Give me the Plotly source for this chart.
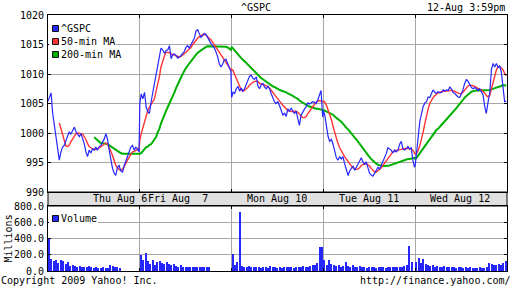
import plotly.graph_objects as go

# ---------------- data ----------------
DAY_LABELS = ["Thu Aug 6", "Fri Aug  7", "Mon Aug 10", "Tue Aug 11", "Wed Aug 12"]
MIN_PER_DAY = 390

# minutes after the open at which the intraday values below were read
SAMPLE_MIN = [0, 6, 13, 20, 27, 34, 41, 48,
              55, 62, 69, 76, 83, 90, 97, 105,
              112, 119, 126, 133, 140, 147, 154, 161,
              168, 175, 182, 189, 196, 203, 210, 218,
              225, 232, 239, 246, 253, 260, 267, 274,
              281, 288, 295, 302, 309, 317, 324, 331,
              338, 345, 352, 359, 366, 373, 380, 387]

N = None

GSPC_THU = [1005.4, 1006.1, 1006.8, 1003.3, 1001.3, 999.0, 997.6, 995.4,
            996.8, 997.6, 997.9, 998.8, 999.3, 1000.2, 999.8, 1000.5,
            1001.0, 1000.2, 999.8, 999.4, 999.9, 999.2, 998.2, 996.8,
            996.0, 997.1, 996.6, 997.3, 997.1, 997.6, 997.1, 997.7,
            997.9, 998.5, 999.0, 999.9, 998.9, 997.1, 995.4, 994.0,
            993.2, 992.8, 994.2, 994.5, 993.6, 993.4, 994.5, 995.3,
            995.9, 996.6, 997.6, 997.9, 997.1, 997.6, 997.3, 996.8]
GSPC_FRI = [1005.0, 1006.6, 1005.8, 1006.9, 1004.4, 1003.6, 1003.3, 1005.3,
            1006.9, 1008.6, 1009.8, 1011.2, 1013.4, 1014.4, 1014.1, 1013.5,
            1014.0, 1014.1, 1014.8, 1012.6, 1013.3, 1013.4, 1013.1, 1012.7,
            1012.9, 1013.1, 1013.5, 1013.8, 1014.5, 1014.8, 1014.4, 1015.1,
            1015.6, 1016.1, 1017.3, 1017.5, 1016.8, 1016.2, 1016.5, 1016.9,
            1016.7, 1016.1, 1015.6, 1015.2, 1014.8, 1014.4, 1013.7, 1012.9,
            1011.7, 1011.2, 1011.7, 1012.4, 1012.5, 1011.7, 1011.1, 1010.5]
GSPC_MON = [1006.0, 1006.9, 1006.7, 1007.5, 1007.9, 1007.1, 1007.6, 1007.1,
            1007.5, 1008.2, 1008.9, 1009.6, 1009.8, 1009.3, 1009.1, 1009.5,
            1007.9, 1007.5, 1008.2, 1008.4, 1007.8, 1007.5, 1007.9, 1007.5,
            1006.7, 1005.8, 1005.3, 1005.0, 1005.3, 1004.7, 1003.7, 1003.0,
            1003.4, 1002.8, 1004.1, 1003.7, 1004.2, 1003.6, 1003.3, 1003.7,
            1002.4, 1001.3, 1003.0, 1003.6, 1004.0, 1004.5, 1005.1, 1004.9,
            1005.1, 1005.3, 1005.2, 1005.0, 1005.6, 1006.4, 1007.2, 1002.7]
GSPC_TUE = [1003.8, 1003.0, 1001.0, 999.4, 998.6, 998.9, 998.1, 996.9,
            995.8, 995.4, 996.0, 995.6, 996.0, 994.8, 994.0, 992.8,
            993.6, 994.1, 994.4, 993.7, 994.2, 994.8, 995.4, 995.8,
            995.1, 994.7, 995.1, 994.1, 993.2, 992.9, 992.7, 993.2,
            993.8, 994.2, 993.9, 994.5, 995.1, 995.6, 996.5, 997.5,
            997.3, 997.1, 996.6, 997.1, 996.8, 997.1, 998.1, 998.6,
            997.3, 997.1, 997.3, 997.7, 997.3, 997.5, 995.4, 994.2]
GSPC_WED = [994.5, 996.5, 999.3, 1002.1, 1003.3, 1004.5, 1005.1, 1005.3,
            1006.1, 1006.0, 1006.7, 1007.3, 1006.9, 1006.7, 1007.0, 1006.8,
            1006.9, 1007.3, 1007.1, 1007.3, 1007.2, 1007.8, 1007.5, 1006.9,
            1006.7, 1006.4, 1006.1, 1006.0, 1006.7, 1007.3, 1008.4, 1009.1,
            1008.7, 1008.1, 1007.7, 1007.5, 1007.7, 1007.5, 1007.2, 1007.5,
            1007.1, 1006.5, 1004.6, 1003.3, 1005.1, 1006.9, 1010.8, 1011.8,
            1011.2, 1011.8, 1011.1, 1011.4, 1010.3, 1008.1, 1005.3, 1005.4]

MA50_THU = [N, N, N, N, N, N, N, 1001.7,
            1000.7, 999.6, 998.5, 997.8, 997.7, 997.9, 998.5, 999.0,
            999.6, 999.9, 1000.0, 1000.0, 999.9, 999.8, 999.4, 998.9,
            998.2, 997.7, 997.5, 997.3, 997.2, 997.2, 997.3, 997.5,
            997.7, 997.9, 998.2, 998.3, 998.1, 997.6, 996.9, 996.2,
            995.4, 994.5, 994.1, 993.8, 993.7, 993.9, 994.4, 994.8,
            995.4, 995.9, 996.5, 996.8, 996.9, 997.1, 997.2, 997.2]
MA50_FRI = [998.8, 999.9, 1001.0, 1002.1, 1002.9, 1003.8, 1004.4, 1005.0,
            1005.3, 1005.8, 1006.9, 1008.0, 1009.5, 1011.2, 1012.3, 1013.1,
            1013.7, 1013.7, 1013.6, 1013.4, 1013.3, 1013.2, 1013.0, 1012.9,
            1012.9, 1013.0, 1013.2, 1013.4, 1013.7, 1014.0, 1014.2, 1014.5,
            1015.0, 1015.4, 1015.8, 1016.1, 1016.3, 1016.5, 1016.7, 1016.7,
            1016.6, 1016.3, 1016.1, 1015.8, 1015.4, 1015.0, 1014.5, 1014.1,
            1013.7, 1013.3, 1012.9, 1012.4, 1012.0, 1011.7, 1011.1, 1010.7]
MA50_MON = [1010.8, 1010.6, 1009.9, 1009.2, 1008.4, 1007.7, 1007.3, 1007.1,
            1007.2, 1007.5, 1007.7, 1008.1, 1008.4, 1008.6, 1008.7, 1008.8,
            1008.7, 1008.4, 1008.3, 1008.2, 1008.1, 1008.0, 1007.9, 1007.6,
            1007.3, 1006.9, 1006.5, 1006.1, 1005.8, 1005.4, 1005.1, 1004.7,
            1004.4, 1004.1, 1003.8, 1003.7, 1003.6, 1003.6, 1003.7, 1003.7,
            1003.5, 1003.2, 1002.8, 1002.6, 1002.6, 1002.8, 1003.3, 1003.7,
            1004.1, 1004.5, 1004.9, 1005.2, 1005.4, 1005.5, 1005.4, 1005.3]
MA50_TUE = [1005.4, 1005.2, 1004.7, 1003.9, 1003.3, 1002.3, 1001.1, 1000.0,
            999.0, 998.2, 997.5, 996.9, 996.5, 996.0, 995.6, 995.1,
            994.7, 994.4, 994.1, 993.9, 993.8, 993.9, 994.1, 994.5,
            994.7, 994.8, 994.8, 994.6, 994.4, 994.0, 993.7, 993.4,
            993.4, 993.6, 993.8, 994.1, 994.5, 994.9, 995.4, 995.8,
            996.2, 996.6, 996.8, 996.9, 997.1, 997.1, 997.2, 997.3,
            997.4, 997.4, 997.4, 997.4, 997.4, 997.3, 997.1, 996.6]
MA50_WED = [996.4, 996.6, 997.1, 997.9, 998.9, 1000.2, 1001.6, 1003.0,
            1004.1, 1005.0, 1005.6, 1006.0, 1006.3, 1006.6, 1006.8, 1006.9,
            1007.0, 1007.1, 1007.1, 1007.1, 1007.2, 1007.2, 1007.2, 1007.2,
            1007.1, 1006.9, 1006.8, 1006.6, 1006.6, 1006.9, 1007.2, 1007.6,
            1008.0, 1008.1, 1008.1, 1008.0, 1007.9, 1007.7, 1007.6, 1007.4,
            1007.3, 1007.1, 1006.8, 1006.4, 1006.1, 1006.4, 1007.5, 1008.6,
            1009.7, 1010.7, 1011.2, 1011.2, 1011.0, 1010.7, 1010.1, 1009.7]

MA200_THU = [N, N, N, N, N, N, N, N,
             N, N, N, N, N, N, N, N,
             N, N, N, N, N, N, N, N,
             N, N, N, N, 999.3, 999.0, 998.8, 998.5,
             998.3, 998.3, 998.2, 998.2, 998.1, 997.9, 997.7, 997.5,
             997.3, 997.1, 996.9, 996.7, 996.6, 996.5, 996.5, 996.5,
             996.4, 996.4, 996.4, 996.4, 996.4, 996.4, 996.4, 996.5]
MA200_FRI = [996.5, 996.6, 996.9, 997.3, 997.6, 997.7, 998.0, 998.1,
             998.5, 998.9, 999.3, 1000.1, 1000.7, 1001.6, 1002.4, 1003.2,
             1003.8, 1004.4, 1005.0, 1005.5, 1006.2, 1006.9, 1007.6, 1008.3,
             1009.0, 1009.4, 1010.0, 1010.6, 1011.0, 1011.4, 1011.8, 1012.3,
             1012.6, 1012.9, 1013.3, 1013.6, 1013.8, 1014.1, 1014.3, 1014.5,
             1014.6, 1014.7, 1014.7, 1014.7, 1014.7, 1014.7, 1014.7, 1014.7,
             1014.7, 1014.7, 1014.6, 1014.6, 1014.6, 1014.5, 1014.3, 1014.1]
MA200_MON = [1014.6, 1014.3, 1014.1, 1013.7, 1013.4, 1013.1, 1012.7, 1012.4,
             1012.2, 1011.9, 1011.6, 1011.3, 1011.0, 1010.8, 1010.5, 1010.2,
             1009.9, 1009.6, 1009.3, 1009.1, 1008.9, 1008.6, 1008.4, 1008.2,
             1008.0, 1007.9, 1007.8, 1007.6, 1007.5, 1007.3, 1007.2, 1007.1,
             1007.0, 1006.9, 1006.7, 1006.6, 1006.4, 1006.3, 1006.1, 1006.0,
             1005.8, 1005.5, 1005.3, 1005.1, 1004.9, 1004.7, 1004.6, 1004.5,
             1004.4, 1004.2, 1004.2, 1004.1, 1004.1, 1004.0, 1004.0, 1003.9]
MA200_TUE = [1003.9, 1003.8, 1003.6, 1003.5, 1003.4, 1003.2, 1003.1, 1002.8,
             1002.6, 1002.4, 1002.1, 1001.9, 1001.6, 1001.2, 1000.9, 1000.6,
             1000.2, 999.9, 999.5, 999.2, 998.9, 998.5, 998.2, 997.9,
             997.5, 997.1, 996.7, 996.3, 995.9, 995.6, 995.3, 995.0,
             994.8, 994.6, 994.5, 994.4, 994.4, 994.4, 994.4, 994.5,
             994.5, 994.6, 994.7, 994.8, 994.9, 995.0, 995.1, 995.3,
             995.4, 995.5, 995.5, 995.6, 995.6, 995.7, 995.8, 995.8]
MA200_WED = [995.6, 995.8, 996.2, 996.6, 997.1, 997.5, 997.9, 998.2,
             998.6, 999.0, 999.4, 999.8, 1000.1, 1000.5, 1000.7, 1001.0,
             1001.4, 1001.7, 1002.0, 1002.4, 1002.7, 1003.0, 1003.3, 1003.6,
             1003.8, 1004.2, 1004.6, 1004.9, 1005.3, 1005.6, 1006.0, 1006.3,
             1006.6, 1006.9, 1007.0, 1007.1, 1007.2, 1007.2, 1007.2, 1007.2,
             1007.2, 1007.2, 1007.2, 1007.2, 1007.2, 1007.3, 1007.4, 1007.5,
             1007.6, 1007.7, 1007.9, 1008.0, 1008.0, 1008.1, 1008.1, 1008.0]

GSPC_DAYS = [GSPC_THU, GSPC_FRI, GSPC_MON, GSPC_TUE, GSPC_WED]
MA50_DAYS = [MA50_THU, MA50_FRI, MA50_MON, MA50_TUE, MA50_WED]
MA200_DAYS = [MA200_THU, MA200_FRI, MA200_MON, MA200_TUE, MA200_WED]

# volume, millions, 10-minute bars
VOL_BAR_MIN = 10
VOL_THU = [390, 150, 120, 140, 100, 135, 120, 90, 110, 60, 70, 60, 55, 60, 50, 55,
           50, 58, 45, 40, 45, 40, 38, 45, 40, 42, 80, 65, 50, 45, 40]
VOL_FRI = [200, 130, 225, 120, 90, 130, 80, 110, 120, 100, 90, 110, 85, 70, 90, 60,
           55, 70, 50, 45, 55, 50, 45, 50, 45, 55, 50, 45, 55, 45]
VOL_MON = [210, 70, 110, 725, 60, 55, 50, 60, 45, 55, 50, 45, 40, 50, 45, 40,
           60, 45, 50, 40, 45, 40, 50, 45, 55, 50, 40, 45, 55, 50, 60, 50,
           55, 60, 70, 75, 95, 290, 290]
VOL_TUE = [135, 70, 135, 90, 80, 60, 70, 55, 60, 115, 60, 50, 70, 55, 45, 60,
           50, 45, 40, 45, 50, 45, 40, 45, 50, 45, 40, 50, 45, 55, 50, 45,
           50, 55, 60, 75, 310, 110]
VOL_WED = [115, 155, 95, 145, 90, 70, 60, 75, 55, 60, 50, 55, 60, 50, 45, 50,
           45, 40, 50, 45, 40, 45, 40, 45, 40, 35, 40, 45, 40, 35, 45, 100,
           90, 80, 70, 85, 75, 100, 125]
VOL_DAYS = [VOL_THU, VOL_FRI, VOL_MON, VOL_TUE, VOL_WED]

PRICE_TICKS = [990, 995, 1000, 1005, 1010, 1015, 1020]
VOL_TICKS = [0, 200, 400, 600, 800]

# ---------------- layout helpers ----------------
W, H = 512, 288
ML, MR, MT, MB = 48, 5, 15, 17
PW, PH = W - ML - MR, H - MT - MB


def px(x):
    return (x - ML) / PW


def py(y):
    return (H - MB - y) / PH


BLUE, RED, GREEN = "#2626ff", "#ff3333", "#00b000"
GRID = "#a6a6a6"
FONT = "DejaVu Sans Mono"

# ---------------- assemble series ----------------
xs, g, r50, r200 = [], [], [], []
for d in range(5):
    for i, m in enumerate(SAMPLE_MIN):
        xs.append(d * MIN_PER_DAY + m)
        g.append(GSPC_DAYS[d][i])
        r50.append(MA50_DAYS[d][i])
        r200.append(MA200_DAYS[d][i])

vx, vy = [], []
for d in range(5):
    for i, v in enumerate(VOL_DAYS[d]):
        vx.append(d * MIN_PER_DAY + i * VOL_BAR_MIN + VOL_BAR_MIN / 2)
        vy.append(v)

fig = go.Figure()
fig.add_trace(go.Scatter(x=xs, y=r200, mode="lines", line=dict(color=GREEN, width=2),
                         connectgaps=False, xaxis="x", yaxis="y", name="200-min MA"))
fig.add_trace(go.Scatter(x=xs, y=r50, mode="lines", line=dict(color=RED, width=1.4),
                         connectgaps=False, xaxis="x", yaxis="y", name="50-min MA"))
fig.add_trace(go.Scatter(x=xs, y=g, mode="lines", line=dict(color=BLUE, width=1.2),
                         xaxis="x", yaxis="y", name="^GSPC"))
fig.add_trace(go.Bar(x=vx, y=vy, width=VOL_BAR_MIN * 0.55, marker=dict(color=BLUE, line=dict(width=0)),
                     xaxis="x2", yaxis="y2", name="Volume"))

axis_common = dict(showgrid=True, gridcolor=GRID, gridwidth=1, zeroline=False,
                   showline=True, linecolor="black", linewidth=1, mirror="ticks",
                   ticks="inside", ticklen=3, tickcolor="black",
                   tickfont=dict(family=FONT, size=10, color="black"))
day_bounds = [MIN_PER_DAY * k for k in range(1, 5)]

fig.update_layout(
    width=W, height=H, margin=dict(l=ML, r=MR, t=MT, b=MB),
    paper_bgcolor="white", plot_bgcolor="white", showlegend=False,
    font=dict(family=FONT, size=10, color="black"),
    bargap=0,
    xaxis=dict(domain=[0, 1], range=[0, 5 * MIN_PER_DAY], tickvals=day_bounds,
               showticklabels=False, anchor="y", **axis_common),
    yaxis=dict(domain=[py(192), 1], range=[PRICE_TICKS[0], PRICE_TICKS[-1]], tickvals=PRICE_TICKS,
               anchor="x", ticklabelstandoff=1, **axis_common),
    xaxis2=dict(domain=[0, 1], range=[0, 5 * MIN_PER_DAY], tickvals=day_bounds,
                showticklabels=False, anchor="y2", matches="x", **axis_common),
    yaxis2=dict(domain=[0, py(206)], range=[VOL_TICKS[0], VOL_TICKS[-1]], tickvals=VOL_TICKS,
                ticktext=[f"{v:.1f}" for v in VOL_TICKS], anchor="x2", ticklabelstandoff=1,
                **axis_common),
)

shapes = []
annotations = []

# date band between the panels
shapes.append(dict(type="rect", xref="paper", yref="paper", x0=0, x1=1, y0=py(206), y1=py(192),
                   fillcolor="#e0e0e0", line=dict(color="black", width=1), layer="below"))


def ann(text, x, y, xanchor="left", **kw):
    annotations.append(dict(text=text, xref="paper", yref="paper", x=px(x), y=py(y),
                            xanchor=xanchor, yanchor="middle", showarrow=False,
                            borderpad=0, borderwidth=0,
                            font=dict(family=FONT, size=10, color="black"), **kw))


# date labels
ann(DAY_LABELS[0], 146.5, 198.5, "right")
ann(DAY_LABELS[1], 147.5, 198.5, "left")
ann(DAY_LABELS[2], 277, 198.5, "center")
ann(DAY_LABELS[3], 368.5, 198.5, "center")
ann(DAY_LABELS[4], 460, 198.5, "center")

# legends
legend_rows = [("^GSPC", BLUE, 28.5), ("50-min MA", RED, 41.5), ("200-min MA", GREEN, 54.5),
               ("Volume", BLUE, 218.5)]
for label, color, yc in legend_rows:
    shapes.append(dict(type="rect", xref="paper", yref="paper", x0=px(49), x1=px(62 + 6 * len(label)),
                       y0=py(yc + 6), y1=py(yc - 6), fillcolor="white", line=dict(width=0),
                       layer="above"))
    shapes.append(dict(type="rect", xref="paper", yref="paper", x0=px(52.5), x1=px(58.5),
                       y0=py(yc + 3), y1=py(yc - 3), fillcolor=color,
                       line=dict(color="#101010", width=1), layer="above"))
    ann(label, 61, yc, "left")

# header / footer texts
ann("^GSPC", 256, 7, "center")
ann("12-Aug 3:59pm", 505, 7, "right")
ann("Copyright 2009 Yahoo! Inc.", 0.5, 280.5, "left")
ann("http://finance.yahoo.com/", 511, 280.5, "right")
ann("Millions", 7.5, 239, "center", textangle=-90)

fig.update_layout(shapes=shapes, annotations=annotations)
fig.write_html("out.html")
